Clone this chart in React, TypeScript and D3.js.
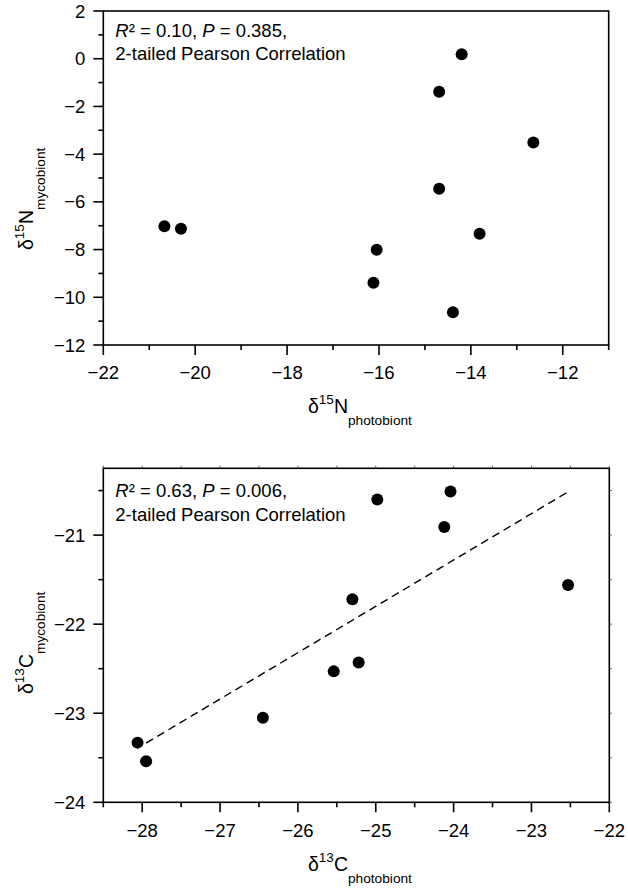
import React from "react";
import * as d3 from "d3";

// ---- Data: panel A (nitrogen) ----
const n15Photobiont = [-20.67, -20.31, -14.2, -14.69, -12.64, -14.69, -13.81, -16.05, -16.12, -14.39];
const n15Mycobiont = [-7.02, -7.13, 0.19, -1.38, -3.51, -5.45, -7.34, -8.01, -9.39, -10.63];
const nXTicks = [-22, -20, -18, -16, -14, -12];
const nYTicks = [-12, -10, -8, -6, -4, -2, 0, 2];
const nStats = { r2: "0.10", p: "0.385" };

// ---- Data: panel B (carbon) ----
const c13Photobiont = [-28.06, -27.95, -26.45, -25.54, -25.22, -25.3, -24.98, -24.04, -24.12, -22.53];
const c13Mycobiont = [-23.33, -23.54, -23.05, -22.53, -22.43, -21.72, -20.6, -20.51, -20.91, -21.56];
const cXTicks = [-28, -27, -26, -25, -24, -23, -22];
const cYTicks = [-24, -23, -22, -21];
const cStats = { r2: "0.63", p: "0.006" };

const FONT = "'Liberation Sans', Arial, Helvetica, sans-serif";
const fmt = d3.format("d");

function linreg(xs: number[], ys: number[]) {
  const mx = d3.mean(xs) as number;
  const my = d3.mean(ys) as number;
  let sxy = 0, sxx = 0;
  xs.forEach((x, i) => { sxy += (x - mx) * (ys[i] - my); sxx += (x - mx) * (x - mx); });
  const b = sxy / sxx;
  return { b, a: my - b * mx };
}

type PanelProps = {
  xs: number[]; ys: number[];
  xDomain: [number, number]; yDomain: [number, number];
  xRange: [number, number]; yRange: [number, number];
  xMajor: number[]; yMajor: number[];
  xMinorStep: number; yMinorStep: number;
  stats: { r2: string; p: string };
  statsY: number;
  element: string; iso: string;
  xTitleY: number; yTitleStart: number;
  fit: boolean;
  frameTicks: boolean;
};

function Panel(p: PanelProps) {
  const x = d3.scaleLinear().domain(p.xDomain).range(p.xRange);
  const y = d3.scaleLinear().domain(p.yDomain).range(p.yRange);
  const [x0, x1] = p.xRange;
  const [y0, y1] = p.yRange; // y0 bottom, y1 top
  const xMinor = d3.range(p.xDomain[0], p.xDomain[1] + 1e-9, p.xMinorStep).filter(v => !p.xMajor.some(m => Math.abs(m - v) < 1e-9));
  const yMinor = d3.range(p.yDomain[0], p.yDomain[1] + 1e-9, p.yMinorStep).filter(v => !p.yMajor.some(m => Math.abs(m - v) < 1e-9));
  const allX = d3.range(p.xDomain[0], p.xDomain[1] + 1e-9, p.xMinorStep);
  const allY = d3.range(p.yDomain[0], p.yDomain[1] + 1e-9, p.yMinorStep);
  let fitPath: string | null = null;
  if (p.fit) {
    const { a, b } = linreg(p.xs, p.ys);
    const ext = d3.extent(p.xs) as [number, number];
    const pts: [number, number][] = [ext[0] + 0.11, ext[1]].map(v => [x(v), y(a + b * v)]);
    fitPath = d3.line()(pts);
  }
  return (
    <g>
      {/* frame */}
      <rect x={x0} y={y1} width={x1 - x0} height={y0 - y1} fill="none" stroke="#000" strokeWidth={1.6} />
      {/* bottom axis ticks */}
      {p.xMajor.map(v => <line key={"xM" + v} x1={x(v)} x2={x(v)} y1={y0} y2={y0 + 10} stroke="#000" strokeWidth={1.6} />)}
      {xMinor.map(v => <line key={"xm" + v} x1={x(v)} x2={x(v)} y1={y0} y2={y0 + 5} stroke="#000" strokeWidth={1.6} />)}
      {p.yMajor.map(v => <line key={"yM" + v} x1={x0} x2={x0 - 10} y1={y(v)} y2={y(v)} stroke="#000" strokeWidth={1.6} />)}
      {yMinor.map(v => <line key={"ym" + v} x1={x0} x2={x0 - 5} y1={y(v)} y2={y(v)} stroke="#000" strokeWidth={1.6} />)}
      {p.frameTicks && allX.map(v => <line key={"xt" + v} x1={x(v)} x2={x(v)} y1={y1} y2={y1 - 2.5} stroke="#555" strokeWidth={1} />)}
      {p.frameTicks && allY.map(v => <line key={"yt" + v} x1={x1} x2={x1 + 2.5} y1={y(v)} y2={y(v)} stroke="#555" strokeWidth={1} />)}
      {/* tick labels */}
      {p.xMajor.map(v => (
        <text key={"xl" + v} x={x(v)} y={y0 + 34.3} textAnchor="middle" fontSize={18.5} fontFamily={FONT}>{fmt(v)}</text>
      ))}
      {p.yMajor.map(v => (
        <text key={"yl" + v} x={x0 - 18} y={y(v) + 6.6} textAnchor="end" fontSize={18.5} fontFamily={FONT}>{fmt(v)}</text>
      ))}
      {/* fit line */}
      {fitPath && <path d={fitPath} fill="none" stroke="#000" strokeWidth={1.4} strokeDasharray="8,5" />}
      {/* points */}
      {p.xs.map((v, i) => <circle key={"pt" + i} cx={x(v)} cy={y(p.ys[i])} r={6} fill="#000" />)}
      {/* stats annotation */}
      <text x={x0 + 12} y={p.statsY} fontSize={18.5} fontFamily={FONT}>
        <tspan fontStyle="italic">R</tspan>² = {p.stats.r2}, <tspan fontStyle="italic">P</tspan> = {p.stats.p},
      </text>
      <text x={x0 + 12} y={p.statsY + 23.5} fontSize={18.5} fontFamily={FONT}>2-tailed Pearson Correlation</text>
      {/* x title */}
      <text x={308} y={p.xTitleY} fontSize={19.5} fontFamily={FONT}>
        δ<tspan fontSize={13.5} dy={-9}>{p.iso}</tspan><tspan dy={9}>{p.element}</tspan><tspan fontSize={13.7} dy={12}>photobiont</tspan>
      </text>
      {/* y title */}
      <text transform={`translate(33,${p.yTitleStart}) rotate(-90)`} fontSize={19.5} fontFamily={FONT}>
        δ<tspan fontSize={13.5} dy={-9}>{p.iso}</tspan><tspan dy={9}>{p.element}</tspan><tspan fontSize={13.7} dy={12}>mycobiont</tspan>
      </text>
    </g>
  );
}

export default function App() {
  return (
    <svg width={628} height={889} style={{ position: "absolute", left: 0, top: 0, background: "#fff" }}>
      <rect width={628} height={889} fill="#fff" />
      <Panel
        xs={n15Photobiont} ys={n15Mycobiont}
        xDomain={[-22, -11]} yDomain={[-12, 2]}
        xRange={[103.3, 608.7]} yRange={[345, 11]}
        xMajor={nXTicks} yMajor={nYTicks}
        xMinorStep={1} yMinorStep={1}
        stats={nStats} statsY={36.5}
        element="N" iso="15"
        xTitleY={413} yTitleStart={250}
        fit={false} frameTicks={false}
      />
      <Panel
        xs={c13Photobiont} ys={c13Mycobiont}
        xDomain={[-28.5, -22]} yDomain={[-24, -20.25]}
        xRange={[103.3, 609.3]} yRange={[802.3, 468.3]}
        xMajor={cXTicks} yMajor={cYTicks}
        xMinorStep={0.5} yMinorStep={0.5}
        stats={cStats} statsY={497.3}
        element="C" iso="13"
        xTitleY={870.5} yTitleStart={694}
        fit={true} frameTicks={true}
      />
    </svg>
  );
}
